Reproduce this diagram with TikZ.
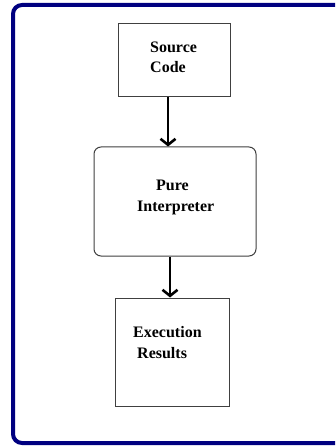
\documentclass[tikz,border=0pt]{standalone}
\usepackage{fontspec}
\setmainfont{Liberation Serif}
\usetikzlibrary{arrows.meta}
\definecolor{framenavy}{HTML}{000080}
\definecolor{boxgrey}{HTML}{404040}
\tikzset{
  box/.style={draw=boxgrey, line width=1pt, fill=white, inner sep=0pt},
  lbl/.style={anchor=base west, inner sep=0pt, font=\bfseries\fontsize{16}{18}\selectfont},
  flow/.style={line width=2.6pt, -{Straight Barb[length=6pt,width=15pt,line width=2.6pt]}}
}
\begin{document}
\begin{tikzpicture}[x=1pt,y=-1pt]
\useasboundingbox (0,0) rectangle (335,446);
\begin{scope}
\clip (0,0) rectangle (335,446);
\draw[framenavy, line width=4pt, rounded corners=9pt] (13,5) rectangle (380,443);
\end{scope}
% boxes
\node[box, minimum width=112pt, minimum height=73pt] (src) at (174,60.5) {};
\node[box, rounded corners=7pt, minimum width=162pt, minimum height=109pt] (interp) at (175,201.5) {};
\node[box, minimum width=114pt, minimum height=108pt] (exec) at (172,352) {};
% labels
\node[lbl] (t1) at (150,53) {Source};
\node[lbl] (t2) at (150,73) {Code};
\node[lbl] (t3) at (156,190) {Pure};
\node[lbl] (t4) at (137,211) {Interpreter};
\node[lbl] (t5) at (133,337) {Execution};
\node[lbl] (t6) at (137,358) {Results};
% arrows
\draw[flow] (src.south -| 168,0) -- (interp.north -| 168,0);
\draw[flow] (interp.south -| 170,0) -- (exec.north -| 170,0);
\end{tikzpicture}
\end{document}
